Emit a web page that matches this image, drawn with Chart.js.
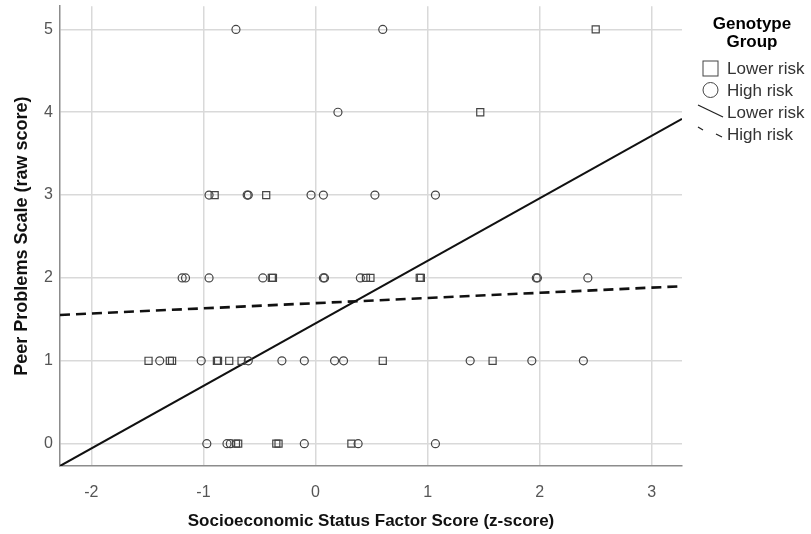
<!DOCTYPE html>
<html>
<head>
<meta charset="utf-8">
<title>Peer problems by SES</title>
<script src="https://cdn.jsdelivr.net/npm/chart.js@4.4.1/dist/chart.umd.min.js"></script>
<style>
html,body{margin:0;padding:0;background:#fff}
#wrap{width:811px;height:534px;position:relative}
</style>
</head>
<body>
<div id="wrap"><canvas id="chart"></canvas></div>
<script>

// SES z-score of each case, grouped by peer problems score (0..5)
const lowerRiskX = [
-0.71,-0.69,-0.35,-0.33,0.32,
-1.49,-1.30,-1.28,-0.88,-0.87,-0.77,-0.66,0.60,1.58,
-0.39,-0.38,0.45,0.49,0.93,0.94,
-0.90,-0.44,
1.47,
2.50
]
const lowerRiskY = [
0,0,0,0,0,
1,1,1,1,1,1,1,1,1,
2,2,2,2,2,2,
3,3,
4,
5
]

const highRiskX = [
-0.97,-0.79,-0.76,-0.10,0.38,1.07,
-1.39,-1.02,-0.60,-0.30,-0.10,0.17,0.25,1.38,1.93,2.39,
-1.19,-1.16,-0.95,-0.47,0.07,0.08,0.40,1.97,1.98,2.43,
-0.95,-0.61,-0.60,-0.04,0.07,0.53,1.07,
0.20,
-0.71,0.60
]
const highRiskY = [
0,0,0,0,0,0,
1,1,1,1,1,1,1,1,1,1,
2,2,2,2,2,2,2,2,2,2,
3,3,3,3,3,3,3,
4,
5,5
]

// fit lines, end points read at the plot edges
const fitX = [-2.28, 3.27]
const lowerFitY = [-0.27, 3.92]
const highFitY = [1.553, 1.90]

const xTicks = [-2,-1,0,1,2,3]
const yTicks = [0,1,2,3,4,5]
const xLimits = [-2.28, 3.27]
const yLimits = [-0.27, 5.28]

const legendTitle = ["Genotype","Group"]
const legendLabels = ["Lower risk","High risk","Lower risk","High risk"]

const FONT = "'Liberation Sans', Arial, sans-serif"

function toPoints(xs, ys){
return xs.map((x,i)=>({x:x, y:ys[i]}))
}

const legendPlugin = {
id:"genotypeLegend",
afterDraw(chart){
const ctx = chart.ctx
ctx.save()
ctx.fillStyle = "#000"
ctx.font = "bold 17px " + FONT
ctx.textAlign = "center"
ctx.textBaseline = "middle"
ctx.fillText(legendTitle[0], 752, 24)
ctx.fillText(legendTitle[1], 752, 42)

ctx.strokeStyle = "#444"
ctx.lineWidth = 1
// square
ctx.strokeRect(703, 61, 15, 15)
// circle
ctx.beginPath()
ctx.arc(710.5, 90, 7.5, 0, Math.PI*2)
ctx.stroke()

ctx.strokeStyle = "#222"
ctx.lineWidth = 1.3
ctx.beginPath()
ctx.moveTo(698, 105)
ctx.lineTo(723, 117)
ctx.stroke()
ctx.beginPath()
ctx.moveTo(698, 127)
ctx.lineTo(703, 130)
ctx.moveTo(716, 134)
ctx.lineTo(722, 137)
ctx.stroke()

ctx.fillStyle = "#333"
ctx.font = "17px " + FONT
ctx.textAlign = "left"
legendLabels.forEach((t,i)=>{
ctx.fillText(t, 727, 69 + i*22)
})
ctx.restore()
}
}

const ctx = document.getElementById("chart")

new Chart(ctx,{
type:"scatter",
data:{
datasets:[
{
label:"Lower risk",
data:toPoints(lowerRiskX, lowerRiskY),
pointStyle:"rect",
pointRadius:5,
backgroundColor:"rgba(0,0,0,0)",
borderColor:"#444",
borderWidth:1.2
},
{
label:"High risk",
data:toPoints(highRiskX, highRiskY),
pointStyle:"circle",
pointRadius:4,
backgroundColor:"rgba(0,0,0,0)",
borderColor:"#444",
borderWidth:1.2
},
{
type:"line",
label:"Lower risk fit",
data:toPoints(fitX, lowerFitY),
borderColor:"#111",
borderWidth:2,
pointRadius:0,
fill:false
},
{
type:"line",
label:"High risk fit",
data:toPoints(fitX, highFitY),
borderColor:"#111",
borderWidth:2.6,
borderDash:[10,6],
pointRadius:0,
fill:false
}
]
},
options:{
responsive:true,
maintainAspectRatio:false,
animation:false,
layout:{padding:{left:0,right:129,top:6,bottom:0}},
plugins:{
legend:{display:false},
tooltip:{enabled:false}
},
scales:{
x:{
type:"linear",
min:xLimits[0],
max:xLimits[1],
afterBuildTicks:(s)=>{ s.ticks = xTicks.map(v=>({value:v})) },
afterFit:(s)=>{ s.height = 68; s.paddingLeft = 0; s.paddingRight = 0 },
border:{color:"#8c8c8c", width:1.5},
grid:{color:"#d9d9d9", lineWidth:1.5, drawTicks:false},
ticks:{color:"#555", padding:17, font:{family:FONT, size:16}},
title:{
display:true,
text:"Socioeconomic Status Factor Score (z-score)",
color:"#111",
font:{family:FONT, size:17, weight:"bold"},
padding:{top:0,bottom:2}
}
},
y:{
type:"linear",
min:yLimits[0],
max:yLimits[1],
afterBuildTicks:(s)=>{ s.ticks = yTicks.map(v=>({value:v})) },
afterFit:(s)=>{ s.width = 60; s.paddingTop = 0; s.paddingBottom = 0 },
border:{color:"#8c8c8c", width:1.5},
grid:{color:"#d9d9d9", lineWidth:1.5, drawTicks:false},
ticks:{color:"#555", padding:7, font:{family:FONT, size:16}},
title:{
display:true,
text:"Peer Problems Scale (raw score)",
color:"#111",
font:{family:FONT, size:18, weight:"bold"},
padding:{top:11,bottom:0}
}
}
}
},
plugins:[legendPlugin]
})

</script>
</body>
</html>
